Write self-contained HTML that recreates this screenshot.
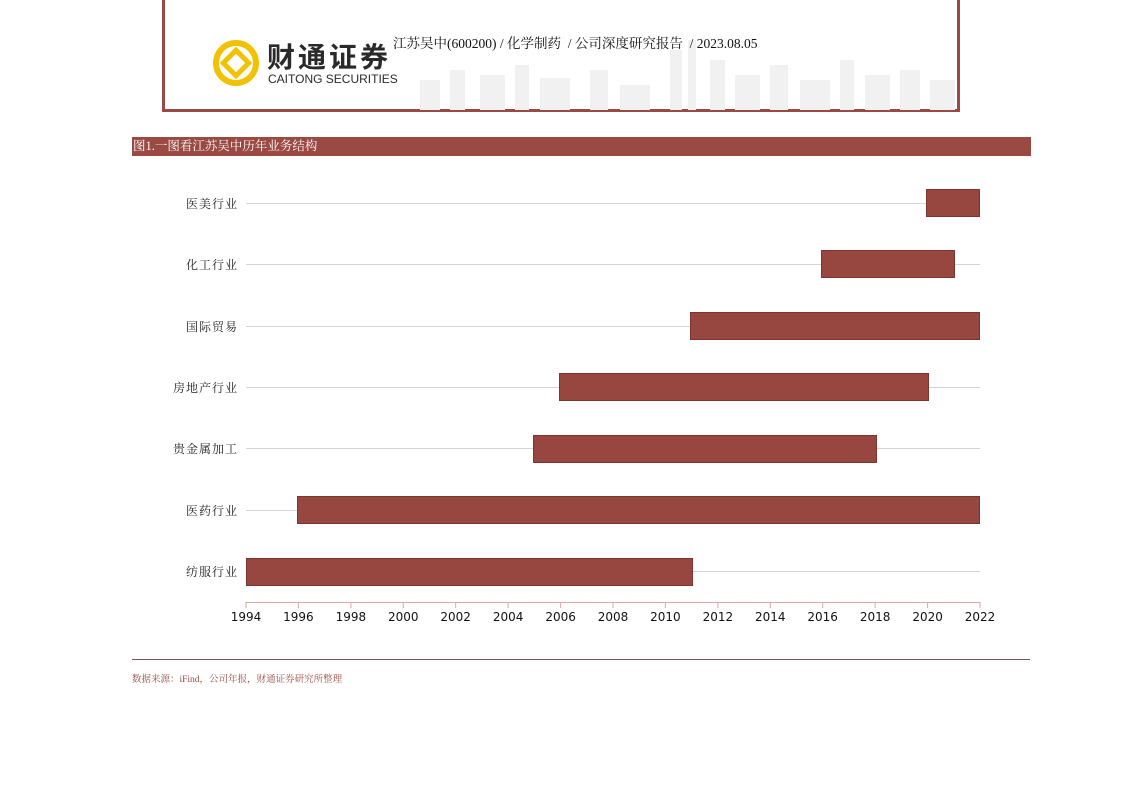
<!DOCTYPE html>
<html><head><meta charset="utf-8"><style>
body{margin:0;width:1122px;height:793px;background:#fff;position:relative;overflow:hidden;font-family:"Liberation Serif","Noto Serif CJK SC",serif}
.a{position:absolute}
.bar{position:absolute;background:#984640;border:1px solid #7d3530;box-sizing:border-box;height:28px}
.grid{position:absolute;left:246px;width:734px;height:1px;background:#d4d4d4}
.lab{position:absolute;width:100px;left:138px;text-align:right;font-size:12px;color:#222;letter-spacing:1px}
.tk{position:absolute;top:610px;width:40px;margin-left:-20px;text-align:center;font-family:"DejaVu Sans",sans-serif;font-size:12px;color:#111}
</style></head><body>
<div class="a" style="left:162px;top:-3px;width:792px;height:112px;border:3px solid #9b4a43;border-top:none"></div>
<svg class="a" style="left:420px;top:40px" width="535" height="70">
<g fill="#f1f1f1">
<rect x="0" y="40" width="20" height="30"/><rect x="30" y="30" width="15" height="40"/><rect x="60" y="35" width="25" height="35"/><rect x="95" y="25" width="14" height="45"/><rect x="120" y="38" width="30" height="32"/><rect x="170" y="30" width="18" height="40"/><rect x="200" y="45" width="30" height="25"/><rect x="250" y="10" width="12" height="60"/><rect x="268" y="0" width="8" height="70"/><rect x="290" y="20" width="15" height="50"/><rect x="315" y="35" width="25" height="35"/><rect x="350" y="25" width="18" height="45"/><rect x="380" y="40" width="30" height="30"/><rect x="420" y="20" width="14" height="50"/><rect x="445" y="35" width="25" height="35"/><rect x="480" y="30" width="20" height="40"/><rect x="510" y="40" width="25" height="30"/>
</g></svg>
<svg class="a" style="left:213px;top:40px" width="46" height="46"><circle cx="23" cy="23" r="20" fill="none" stroke="#f2c200" stroke-width="6"/><rect x="14" y="14" width="18" height="18" transform="rotate(45 23 23)" fill="none" stroke="#f2c200" stroke-width="5"/></svg>
<div class="a" style="left:267px;top:40px;font-size:28px;font-weight:bold;color:#2a2a2a;font-family:'Noto Sans CJK SC',sans-serif;letter-spacing:3px;line-height:32px">财通证券</div>
<div class="a" style="left:268px;top:72px;font-size:12px;color:#2a2a2a;font-family:'Liberation Sans',sans-serif">CAITONG SECURITIES</div>
<div class="a" style="left:393px;top:32px;font-size:13.5px;color:#111;white-space:nowrap">江苏吴中(600200) / 化学制药 &nbsp;/ 公司深度研究报告 &nbsp;/ 2023.08.05</div>
<div class="a" style="left:132px;top:137px;width:898px;height:19px;background:#9b4a43;color:#fff;font-size:12.5px;line-height:19px;padding-left:1px">图1.一图看江苏吴中历年业务结构</div>
<div class="grid" style="top:203px"></div><div class="grid" style="top:264px"></div><div class="grid" style="top:326px"></div><div class="grid" style="top:387px"></div><div class="grid" style="top:448px"></div><div class="grid" style="top:510px"></div><div class="grid" style="top:571px"></div>
<div class="lab" style="top:195px">医美行业</div><div class="lab" style="top:256px">化工行业</div><div class="lab" style="top:318px">国际贸易</div><div class="lab" style="top:379px">房地产行业</div><div class="lab" style="top:440px">贵金属加工</div><div class="lab" style="top:502px">医药行业</div><div class="lab" style="top:563px">纺服行业</div>
<div class="bar" style="left:926px;width:54px;top:189px"></div>
<div class="bar" style="left:821px;width:134px;top:250px"></div>
<div class="bar" style="left:690px;width:290px;top:312px"></div>
<div class="bar" style="left:559px;width:370px;top:373px"></div>
<div class="bar" style="left:533px;width:344px;top:435px"></div>
<div class="bar" style="left:297px;width:683px;top:496px"></div>
<div class="bar" style="left:246px;width:447px;top:558px"></div>
<div class="a" style="left:246px;top:602px;width:734px;height:1px;background:#d9a9a6"></div>
<svg class="a" style="left:245px;top:602px" width="737" height="8"><g stroke="#d9a9a6" stroke-width="1">
<line x1="1" y1="0" x2="1" y2="6"/><line x1="53.4" y1="0" x2="53.4" y2="6"/><line x1="105.9" y1="0" x2="105.9" y2="6"/><line x1="158.3" y1="0" x2="158.3" y2="6"/><line x1="210.7" y1="0" x2="210.7" y2="6"/><line x1="263.1" y1="0" x2="263.1" y2="6"/><line x1="315.6" y1="0" x2="315.6" y2="6"/><line x1="368" y1="0" x2="368" y2="6"/><line x1="420.4" y1="0" x2="420.4" y2="6"/><line x1="472.9" y1="0" x2="472.9" y2="6"/><line x1="525.3" y1="0" x2="525.3" y2="6"/><line x1="577.7" y1="0" x2="577.7" y2="6"/><line x1="630.1" y1="0" x2="630.1" y2="6"/><line x1="682.6" y1="0" x2="682.6" y2="6"/><line x1="735" y1="0" x2="735" y2="6"/></g></svg>
<div class="tk" style="left:246px">1994</div><div class="tk" style="left:298.4px">1996</div><div class="tk" style="left:350.9px">1998</div><div class="tk" style="left:403.3px">2000</div><div class="tk" style="left:455.7px">2002</div><div class="tk" style="left:508.1px">2004</div><div class="tk" style="left:560.6px">2006</div><div class="tk" style="left:613px">2008</div><div class="tk" style="left:665.4px">2010</div><div class="tk" style="left:717.9px">2012</div><div class="tk" style="left:770.3px">2014</div><div class="tk" style="left:822.7px">2016</div><div class="tk" style="left:875.1px">2018</div><div class="tk" style="left:927.6px">2020</div><div class="tk" style="left:980px">2022</div>
<div class="a" style="left:132px;top:659px;width:898px;height:1px;background:#7a5553"></div>
<div class="a" style="left:132px;top:671px;font-size:9.5px;color:#9b4a43">数据来源：iFind，公司年报，财通证券研究所整理</div>
</body></html>
